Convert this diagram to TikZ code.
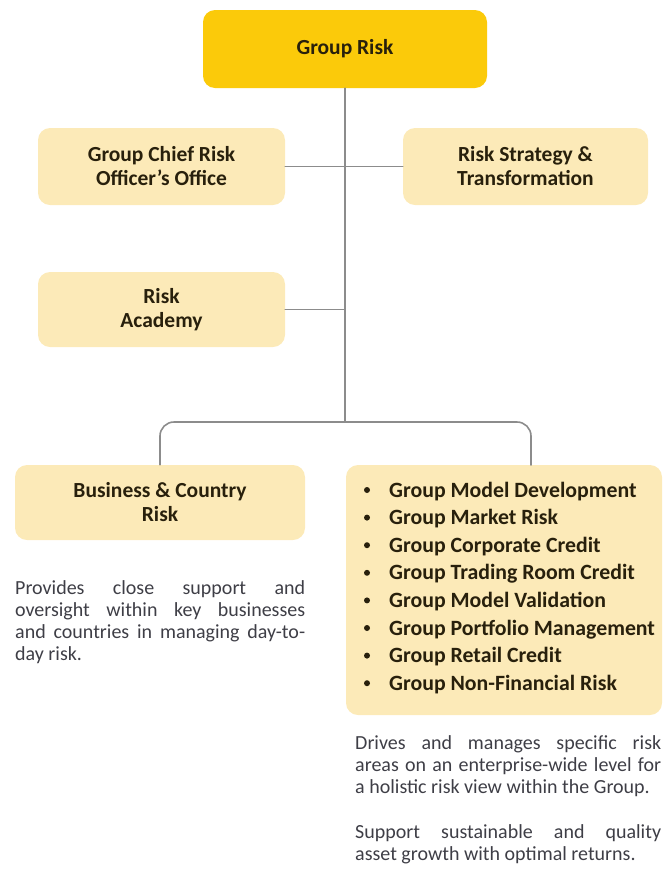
\documentclass[tikz,border=0pt]{standalone}
\usepackage{fontspec}
\setmainfont{Carlito}
\definecolor{gold}{RGB}{251,202,10}
\definecolor{pale}{RGB}{252,234,184}
\definecolor{ink}{RGB}{40,32,12}
\definecolor{prose}{RGB}{62,62,70}
\definecolor{wire}{RGB}{140,140,140}
\begin{document}
\begin{tikzpicture}[x=1pt,y=1pt,line join=round,line cap=round,
	box/.style={rounded corners=12pt,fill=pale,minimum width=247pt,minimum height=77pt,
		align=center,text=ink,font=\fontsize{21.5}{24}\selectfont\bfseries},
	unit/.style={anchor=base west,inner sep=0pt,text=ink,font=\fontsize{21.8}{24}\selectfont\bfseries},
	desc/.style={anchor=north west,inner sep=0pt,align=justify,text=prose,
		font=\fontsize{20}{22}\selectfont},
	link/.style={draw=wire,line width=1.6pt}]
	\useasboundingbox (0,0) rectangle (662,-879);
	\path
	(345,-422) coordinate (S)
	(531,-465) coordinate (T)
	;
	\node[box,fill=gold,minimum width=284pt,minimum height=78pt] (GR) at (345,-49) {Group Risk};
	\node[box] (CO) at (161.5,-166.5) {Group Chief Risk\\Officer’s Office};
	\node[box,minimum width=245pt] (RS) at (525.5,-166.5) {Risk Strategy \&\\Transformation};
	\node[box,minimum height=75pt] (RA) at (161.5,-309.5) {Risk\\Academy};
	\node[box,minimum width=290pt,minimum height=75pt] (BC) at (160,-502.5) {Business \& Country\\Risk};
	\node[box,minimum width=316pt,minimum height=250pt] (UN) at (504,-590) {};
	\foreach \unitname [count=\i] in {Group Model Development,Group Market Risk,
		Group Corporate Credit,Group Trading Room Credit,Group Model Validation,
		Group Portfolio Management,Group Retail Credit,Group Non-Financial Risk}
	{
		\fill[ink] (367,{-462.4-27.6*\i}) circle(3pt);
		\node[unit] (U\i) at (389,{-469.4-27.6*\i}) {\unitname};
	}
	\node[desc,text width=290pt] (BCtext) at (15,-580)
	{Provides close support and\linebreak oversight within key businesses\linebreak
		and countries in managing day-to-\linebreak day risk.};
	\node[desc,text width=306pt] (UNtext) at (355,-735)
	{Drives and manages specific risk\linebreak areas on an enterprise-wide level for\linebreak
		a holistic risk view within the Group.};
	\node[desc,text width=306pt] (UNgoal) at (355,-824)
	{Support sustainable and quality\linebreak asset growth with optimal returns.};
	\draw[link] (GR) -- (S);
	\draw[link] (CO) -- (CO -| S);
	\draw[link] (RS) -- (RS -| S);
	\draw[link] (RA) -- (RA -| S);
	\draw[link,rounded corners=14pt] (BC) |- (S) -| (T);
\end{tikzpicture}
\end{document}
